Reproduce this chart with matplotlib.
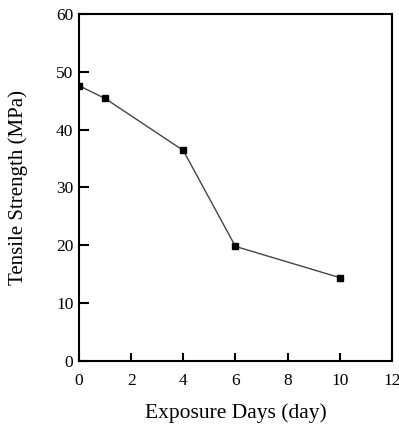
import matplotlib
matplotlib.use("Agg")
import matplotlib.pyplot as plt

# data
days = [0, 1, 4, 6, 10]
strength = [47.6, 45.4, 36.4, 19.8, 14.4]
xticks = [0, 2, 4, 6, 8, 10, 12]
yticks = [0, 10, 20, 30, 40, 50, 60]

plt.rcParams['font.family'] = ['Liberation Serif', 'DejaVu Serif']

fig = plt.figure(figsize=(3.99, 4.26), dpi=100)
ax = fig.add_axes([0.198, 0.153, 0.784, 0.814])

ax.plot(days, strength, color='#444444', linewidth=1.0,
        marker='s', markersize=5, markerfacecolor='black', markeredgecolor='black')

ax.set_xlim(0, 12)
ax.set_ylim(0, 60)
ax.set_xticks(xticks)
ax.set_yticks(yticks)
ax.tick_params(direction='in', length=6, width=1.5, labelsize=12.5, pad=9)
ax.tick_params(axis='y', length=7, pad=4)
for s in ax.spines.values():
    s.set_linewidth(1.5)

ax.set_xlabel('Exposure Days (day)', fontsize=15.5, labelpad=10)
ax.set_ylabel('Tensile Strength (MPa)', fontsize=15, labelpad=20)

fig.savefig('out.png', dpi=100)
